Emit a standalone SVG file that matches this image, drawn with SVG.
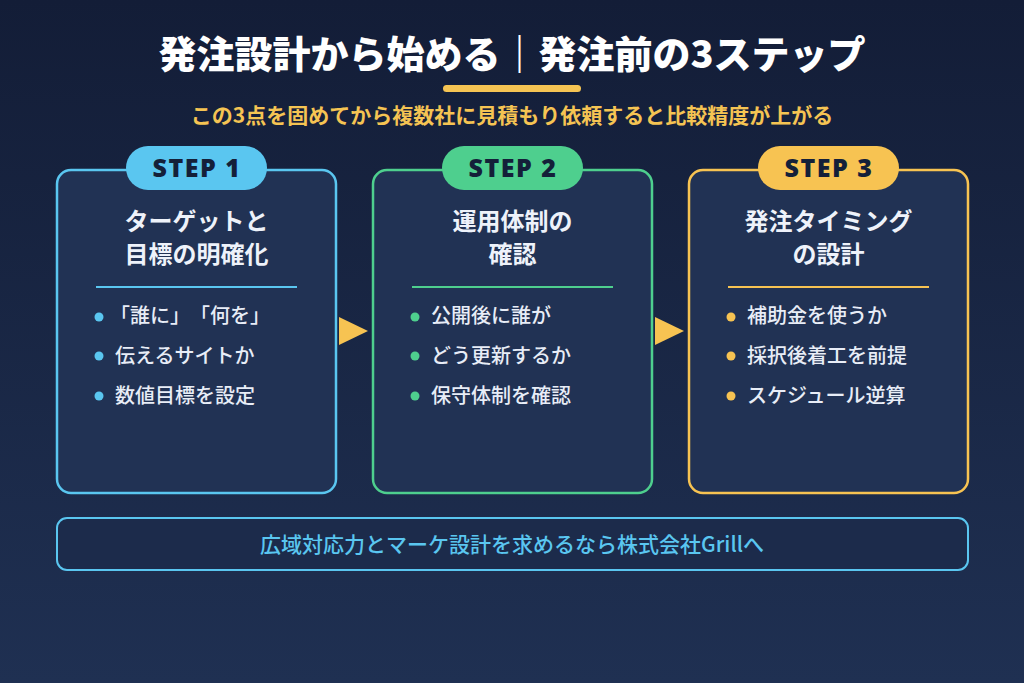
<svg xmlns="http://www.w3.org/2000/svg" width="1024" height="683" viewBox="0 0 1024 683">
<defs>
<linearGradient id="bg" x1="0" y1="0" x2="0" y2="1">
<stop offset="0" stop-color="#131d37"/>
<stop offset="1" stop-color="#1f3052"/>
</linearGradient>
</defs>
<style>
text{font-family:"Noto Sans CJK JP","Noto Sans",sans-serif;text-spacing-trim:space-all;}
.title{font-size:38px;font-weight:900;fill:#ffffff;}
.sub{font-size:21px;font-weight:700;fill:#f5c453;}
.card{fill:#213254;stroke-width:2.5;}
.pilltxt{font-size:25px;font-weight:900;fill:#142039;letter-spacing:1.5px;font-family:"Noto Sans","Noto Sans CJK JP",sans-serif;}
.ctitle{font-size:24px;font-weight:700;fill:#eef2fa;}
.item{font-size:20px;font-weight:500;fill:#e8edf7;}
.blue{stroke:#5ac6f0;} .bluef{fill:#5ac6f0;}
.green{stroke:#4ecf8e;} .greenf{fill:#4ecf8e;}
.yellow{stroke:#f7c352;} .yellowf{fill:#f7c352;}
.bottom{font-size:21px;font-weight:500;fill:#5ac6f0;}
</style>
<rect width="1024" height="683" fill="url(#bg)"/>
<g id="header">
<text class="title" x="512" y="68" text-anchor="middle">発注設計から始める｜発注前の3ステップ</text>
<rect x="443" y="85" width="138" height="7" rx="3.5" fill="#f5c453"/>
<text class="sub" x="512" y="123" text-anchor="middle">この3点を固めてから複数社に見積もり依頼すると比較精度が上がる</text>
</g>
<g id="step1">
<rect class="card blue" x="57" y="170" width="279" height="323" rx="14"/>
<rect class="bluef" x="126" y="146" width="141" height="44" rx="22"/>
<text class="pilltxt" x="197" y="177" text-anchor="middle">STEP 1</text>
<text class="ctitle" x="196.5" y="230" text-anchor="middle">ターゲットと</text>
<text class="ctitle" x="196.5" y="263" text-anchor="middle">目標の明確化</text>
<line class="blue" x1="96" y1="287" x2="297" y2="287" stroke-width="2"/>
<circle class="bluef" cx="99" cy="317" r="4.5"/>
<circle class="bluef" cx="99" cy="356" r="4.5"/>
<circle class="bluef" cx="99" cy="396" r="4.5"/>
<text class="item" x="110" y="323">「誰に」「何を」</text>
<text class="item" x="115" y="363">伝えるサイトか</text>
<text class="item" x="115" y="403">数値目標を設定</text>
</g>
<g id="step2">
<rect class="card green" x="373" y="170" width="279" height="323" rx="14"/>
<rect class="greenf" x="442" y="146" width="141" height="44" rx="22"/>
<text class="pilltxt" x="513" y="177" text-anchor="middle">STEP 2</text>
<text class="ctitle" x="512.5" y="230" text-anchor="middle">運用体制の</text>
<text class="ctitle" x="512.5" y="263" text-anchor="middle">確認</text>
<line class="green" x1="412" y1="287" x2="613" y2="287" stroke-width="2"/>
<circle class="greenf" cx="415" cy="317" r="4.5"/>
<circle class="greenf" cx="415" cy="356" r="4.5"/>
<circle class="greenf" cx="415" cy="396" r="4.5"/>
<text class="item" x="431" y="323">公開後に誰が</text>
<text class="item" x="431" y="363">どう更新するか</text>
<text class="item" x="431" y="403">保守体制を確認</text>
</g>
<g id="step3">
<rect class="card yellow" x="689" y="170" width="279" height="323" rx="14"/>
<rect class="yellowf" x="758" y="146" width="141" height="44" rx="22"/>
<text class="pilltxt" x="829" y="177" text-anchor="middle">STEP 3</text>
<text class="ctitle" x="828.5" y="230" text-anchor="middle">発注タイミング</text>
<text class="ctitle" x="828.5" y="263" text-anchor="middle">の設計</text>
<line class="yellow" x1="728" y1="287" x2="929" y2="287" stroke-width="2"/>
<circle class="yellowf" cx="731" cy="317" r="4.5"/>
<circle class="yellowf" cx="731" cy="356" r="4.5"/>
<circle class="yellowf" cx="731" cy="396" r="4.5"/>
<text class="item" x="747" y="323">補助金を使うか</text>
<text class="item" x="747" y="363">採択後着工を前提</text>
<text class="item" x="747" y="403">スケジュール逆算</text>
</g>
<g id="connectors">
<polygon points="339,317 368,331 339,345" fill="#f7c352"/>
<polygon points="655,317 684,331 655,345" fill="#f7c352"/>
</g>
<g id="footer">
<rect x="57" y="518" width="911" height="52" rx="10" fill="#1c2b4b" stroke="#5ac6f0" stroke-width="2"/>
<text class="bottom" x="512" y="552" text-anchor="middle">広域対応力とマーケ設計を求めるなら株式会社Grillへ</text>
</g>
</svg>
